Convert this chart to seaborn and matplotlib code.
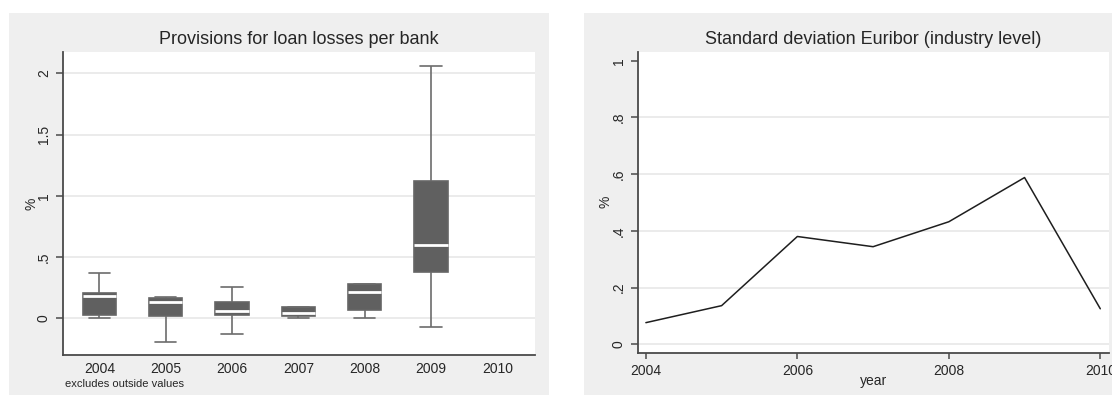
import matplotlib
matplotlib.use("Agg")
import matplotlib.pyplot as plt
from matplotlib.patches import Rectangle
import numpy as np
import pandas as pd
import seaborn as sns

# ---- data -------------------------------------------------------------
years = [2004, 2005, 2006, 2007, 2008, 2009, 2010]
year_labels = ["2004", "2005", "2006", "2007", "2008", "2009", "2010"]

# provisions for loan losses per bank (%), five points per year:
# lower adjacent value, lower quartile, median, upper quartile, upper adjacent value
prov_2004 = [0.000, 0.024, 0.180, 0.204, 0.367]
prov_2005 = [-0.190, 0.016, 0.133, 0.168, 0.175]
prov_2006 = [-0.126, 0.024, 0.062, 0.130, 0.256]
prov_2007 = [0.000, 0.022, 0.046, 0.090, 0.090]
prov_2008 = [0.000, 0.070, 0.217, 0.277, 0.277]
prov_2009 = [-0.071, 0.380, 0.596, 1.123, 2.062]

# standard deviation of Euribor (industry level, %)
line_years = [2004, 2005, 2006, 2007, 2008, 2009, 2010]
euribor_sd = [0.076, 0.136, 0.380, 0.344, 0.432, 0.588, 0.125]

left_yticks = [0, 0.5, 1, 1.5, 2]
left_yticklabels = ["0", ".5", "1", "1.5", "2"]
right_yticks = [0, 0.2, 0.4, 0.6, 0.8, 1]
right_yticklabels = ["0", ".2", ".4", ".6", ".8", "1"]
right_xticks = [2004, 2006, 2008, 2010]

prov = pd.DataFrame({
    "year": np.repeat(year_labels[:6], 5),
    "value": np.concatenate([prov_2004, prov_2005, prov_2006,
                             prov_2007, prov_2008, prov_2009]),
})

# ---- style ------------------------------------------------------------
sns.set_style("white")
plt.rcParams["font.family"] = ["Liberation Sans", "DejaVu Sans"]
TEXT = "#262626"
SPINE = "#4a4a4a"
PANEL = "#efefef"
GRID = "#e6e6e6"

W, H = 1112, 396
fig = plt.figure(figsize=(W / 100, H / 100), dpi=100)
fig.patch.set_facecolor("white")


def fx(px):
    return px / W


def fy(py):
    return 1 - py / H


# light grey graph regions behind each panel
for x0, x1 in ((9, 549), (584, 1200)):
    fig.add_artist(Rectangle((fx(x0), fy(395)), fx(x1 - x0), (395 - 13.3) / H,
                             transform=fig.transFigure, facecolor=PANEL,
                             edgecolor="none", zorder=-10))

ax1 = fig.add_axes([fx(63.3), fy(355), fx(535 - 63.3), (355 - 52) / H])
ax2 = fig.add_axes([fx(638.3), fy(352.7), fx(1109 - 638.3), (352.7 - 51.7) / H])


def style_axes(ax):
    ax.set_facecolor("white")
    for side in ("top", "right"):
        ax.spines[side].set_visible(False)
    for side in ("left", "bottom"):
        ax.spines[side].set_color(SPINE)
        ax.spines[side].set_linewidth(1.3)
    ax.yaxis.grid(True, color=GRID, linewidth=1.1)
    ax.xaxis.grid(False)
    ax.set_axisbelow(True)
    ax.tick_params(axis="y", left=True, length=5, width=1.1, color=SPINE,
                   labelsize=10, labelcolor=TEXT, pad=4)
    for lab in ax.get_yticklabels():
        lab.set_rotation(90)
        lab.set_va("center")


# ---- left: box plot -----------------------------------------------------
sns.boxplot(data=prov, x="year", y="value", order=year_labels, ax=ax1,
            color="#606060", saturation=1, width=0.5, whis=np.inf,
            linecolor="#6c6c6c", linewidth=1.2, capwidths=0.32,
            medianprops={"color": "white", "linewidth": 2},
            boxprops={"facecolor": "#606060", "edgecolor": "#666666"})
ax1.set_xlim(-0.543, 6.568)
ax1.set_ylim(-0.30, 2.174)
ax1.set_yticks(left_yticks)
ax1.set_yticklabels(left_yticklabels)
style_axes(ax1)
ax1.tick_params(axis="x", bottom=False, length=0, labelsize=10,
                labelcolor=TEXT, pad=5)
ax1.set_xlabel("")
ax1.set_ylabel("%", fontsize=10, color=TEXT)
ax1.yaxis.set_label_coords(-0.052, 0.5)
ax1.set_title("Provisions for loan losses per bank", fontsize=13,
              color=TEXT, pad=5.5)
fig.text(fx(65), fy(384), "excludes outside values", fontsize=8,
         color=TEXT, ha="left", va="center")

# ---- right: line plot ---------------------------------------------------
sns.lineplot(x=line_years, y=euribor_sd, ax=ax2, color="#1e1e1e",
             linewidth=1.1)
ax2.set_xlim(2003.9, 2010.115)
ax2.set_ylim(-0.030, 1.032)
ax2.set_xticks(right_xticks)
ax2.set_xticklabels([str(v) for v in right_xticks])
ax2.set_yticks(right_yticks)
ax2.set_yticklabels(right_yticklabels)
style_axes(ax2)
ax2.yaxis.get_gridlines()[-1].set_visible(False)
ax2.tick_params(axis="x", bottom=True, length=4, width=1.1, color=SPINE,
                labelsize=10, labelcolor=TEXT, pad=4)
ax2.set_xlabel("year", fontsize=10, color=TEXT)
ax2.xaxis.set_label_coords(0.5, -0.072)
ax2.set_ylabel("%", fontsize=10, color=TEXT)
ax2.yaxis.set_label_coords(-0.054, 0.5)
ax2.set_title("Standard deviation Euribor (industry level)", fontsize=13,
              color=TEXT, pad=5.5)

fig.savefig("out.png", dpi=100)
